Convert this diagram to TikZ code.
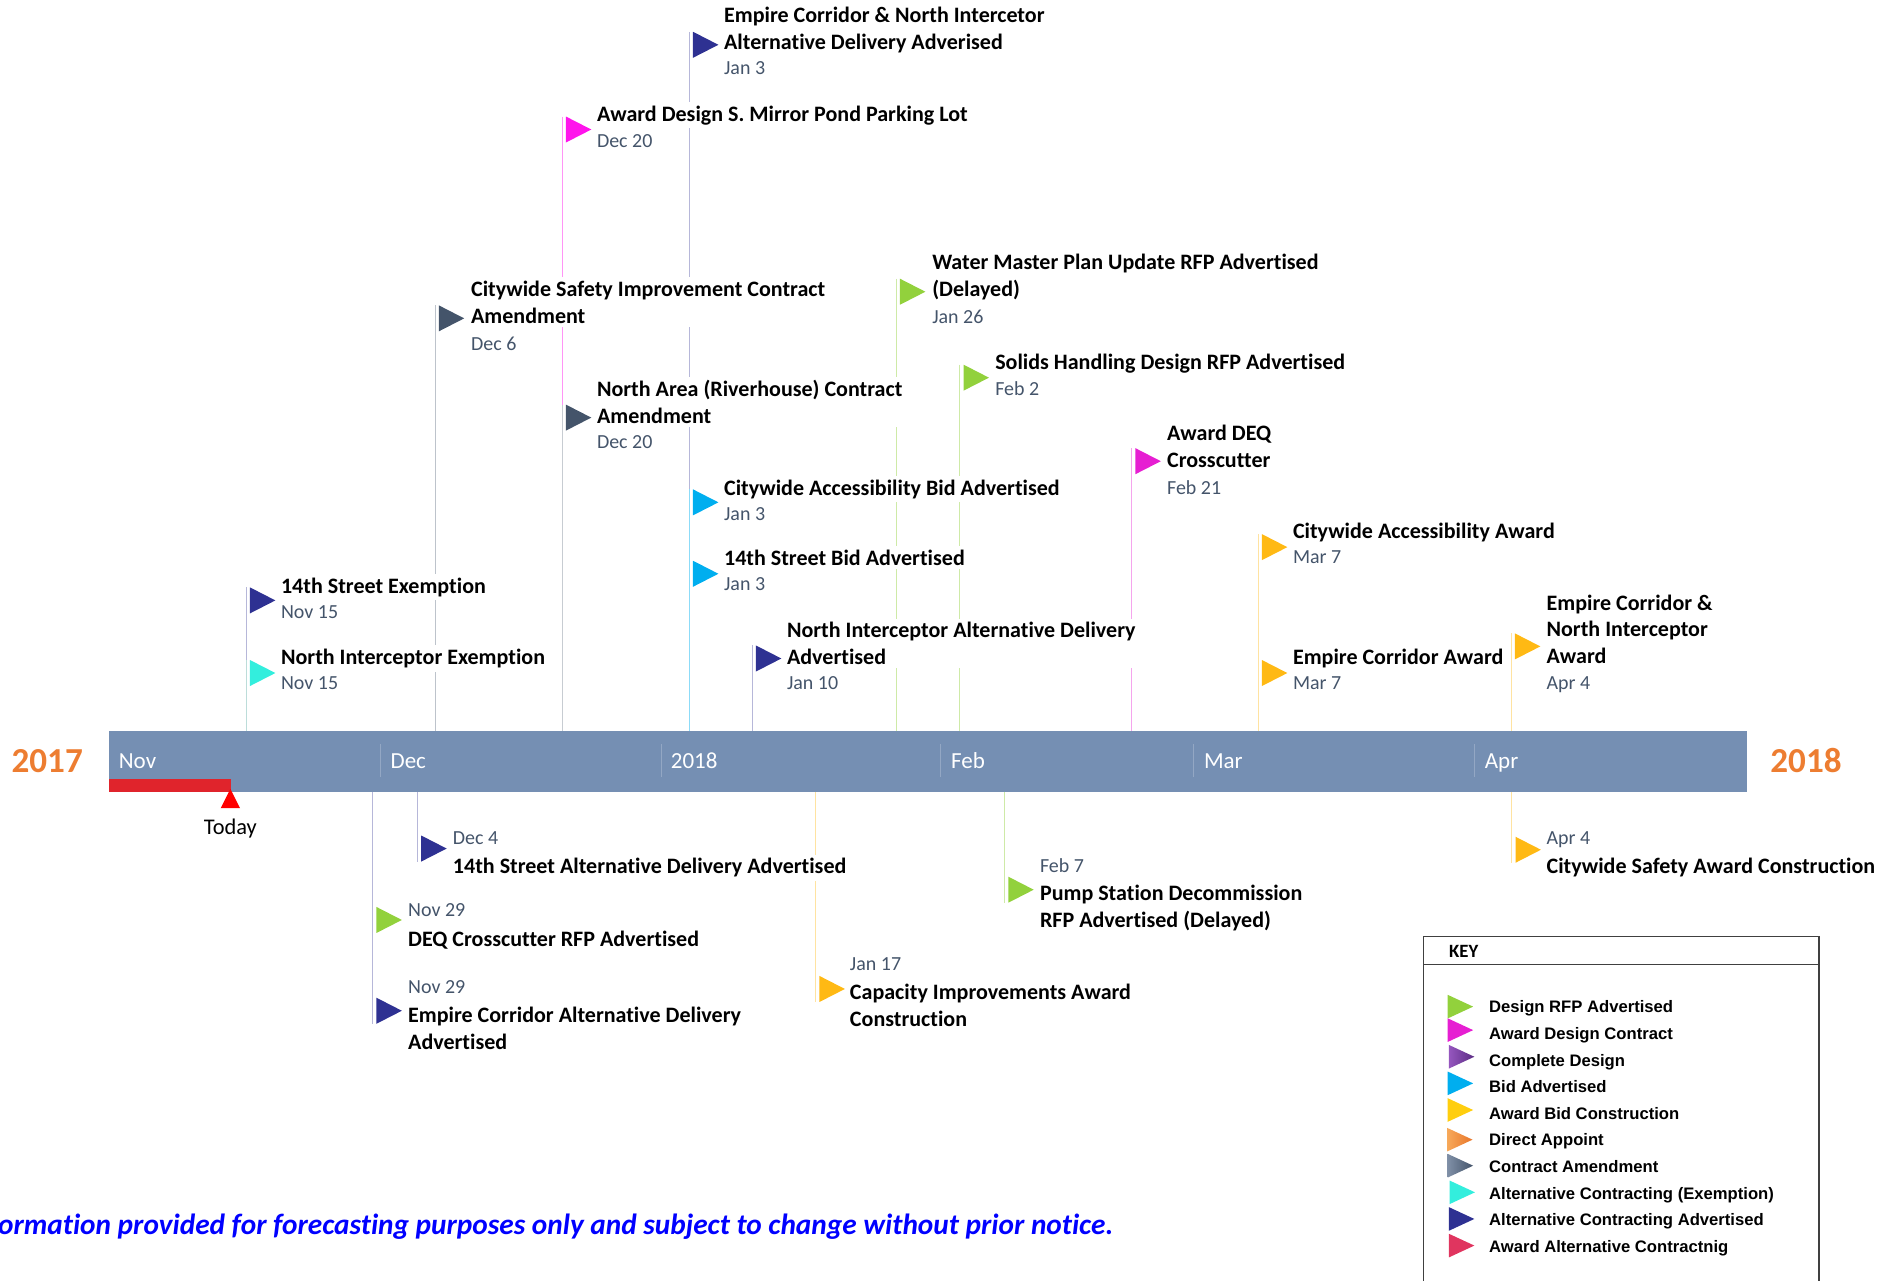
\documentclass[tikz,border=0pt]{standalone}
\usepackage{fontspec}
\setmainfont[Ligatures={NoCommon}]{Carlito}
\newfontfamily\keyfont{Liberation Sans}
\usetikzlibrary{shapes.geometric}
\definecolor{cgreen}{HTML}{92D13C}
\definecolor{cpink}{HTML}{FF14EC}
\definecolor{cmag}{HTML}{E61ED2}
\definecolor{cblue}{HTML}{00AEEF}
\definecolor{camber}{HTML}{FFB914}
\definecolor{cturq}{HTML}{33EEDD}
\definecolor{cnavy}{HTML}{2E3192}
\definecolor{cslate}{HTML}{44546A}
\definecolor{ccrim}{HTML}{E0355F}
\definecolor{cbar}{HTML}{758FB3}
\definecolor{csep}{HTML}{93A7C4}
\definecolor{cred}{HTML}{E0242C}
\definecolor{cyear}{HTML}{ED7D31}
\definecolor{cpurpl}{HTML}{9556BE}
\definecolor{cpurpd}{HTML}{5B2C83}
\definecolor{corgl}{HTML}{F7A95A}
\definecolor{corgd}{HTML}{E8762A}
\definecolor{cslatel}{HTML}{7F8FA6}

\begin{document}
\begin{tikzpicture}
        [x=1pt,y=-1pt,
        flag/.style={draw=none,shape=isosceles triangle,isosceles triangle stretches,inner sep=0,outer sep=0,minimum width=21.5pt,minimum height=21pt,anchor=lower side},
        keyflag/.style={draw=none,shape=isosceles triangle,isosceles triangle stretches,inner sep=0,outer sep=0,minimum width=19.5pt,minimum height=21pt,anchor=lower side},
        conn/.style={line width=0.8pt},
        evttitle/.style={anchor=north west,align=left,fill=white,inner xsep=0,inner ysep=3pt,yshift=9pt,font=\fontsize{18.2}{22}\selectfont\bfseries},
        evtdate/.style={anchor=north west,inner xsep=0,inner ysep=3pt,yshift=9pt,text=cslate,font=\fontsize{16.5}{20}\selectfont},
        month/.style={anchor=base west,inner sep=0,text=white,font=\fontsize{19}{22}\selectfont},
        year/.style={anchor=base,inner sep=0,text=cyear,font=\fontsize{29}{32}\selectfont\bfseries},
        keytext/.style={anchor=base west,inner sep=0,font=\fontsize{13.75}{16}\selectfont\keyfont\bfseries}]

        \useasboundingbox (0,0) rectangle (1568,1058);

        % bar
        \node[draw=none,fill=cbar,inner sep=0,minimum width=1353pt,minimum height=50pt] (bar) at (766.5,629) {};
        \fill[cred] (90,643.6) rectangle (190.5,654);
        \node[draw=none,fill=red,shape=isosceles triangle,isosceles triangle stretches,shape border rotate=90,inner sep=0,minimum width=16pt,minimum height=16pt] (tri) at (190.3,662.7) {};
        \node[anchor=base,inner sep=0,font=\fontsize{18.5}{22}\selectfont] (today) at (190.3,689) {Today};

        \node[year] (y1) at (39,638.5) {2017};
        \node[year] (y2) at (1492,638.5) {2018};

        \node[month] (m1) at (98,635) {Nov};
        \node[month] (m2) at (322.5,635) {Dec};
        \node[month] (m3) at (554,635) {2018};
        \node[month] (m4) at (785.5,635) {Feb};
        \node[month] (m5) at (994.5,635) {Mar};
        \node[month] (m6) at (1226.5,635) {Apr};

        \draw[csep] (314,615) -- (314,642);
        \draw[csep] (546,615) -- (546,642);
        \draw[csep] (777,615) -- (777,642);
        \draw[csep] (986,615) -- (986,642);
        \draw[csep] (1218,615) -- (1218,642);

        % flags above
        \node[flag,fill=cnavy] (f1) at (572.5,37) {};
        \node[flag,fill=cpink] (f2) at (467.5,107) {};
        \node[flag,fill=cslate] (f3) at (362.5,263) {};
        \node[flag,fill=cslate] (f4) at (467.5,345) {};
        \node[flag,fill=cblue] (f5) at (572.5,415) {};
        \node[flag,fill=cblue] (f6) at (572.5,474) {};
        \node[flag,fill=cnavy] (f7) at (624.5,544) {};
        \node[flag,fill=cgreen] (f8) at (743.5,241) {};
        \node[flag,fill=cgreen] (f9) at (796,312) {};
        \node[flag,fill=cmag] (f10) at (938,381) {};
        \node[flag,fill=camber] (f11) at (1042.5,452) {};
        \node[flag,fill=camber] (f12) at (1042.5,556) {};
        \node[flag,fill=camber] (f13) at (1251.5,534) {};
        \node[flag,fill=cnavy] (f14) at (206.5,496) {};
        \node[flag,fill=cturq] (f15) at (206.5,556) {};

        % flags below
        \node[flag,fill=cnavy] (f16) at (348,701) {};
        \node[flag,fill=cgreen] (f17) at (311,760) {};
        \node[flag,fill=cnavy] (f18) at (311,835) {};
        \node[flag,fill=camber] (f19) at (677,817) {};
        \node[flag,fill=cgreen] (f20) at (833,735) {};
        \node[flag,fill=camber] (f21) at (1252,702) {};

        \draw[conn,cnavy!35] ([xshift=-3pt]f1.left corner) -- ([xshift=-3pt]f1.left corner |- bar.north);
        \draw[conn,cpink!45] ([xshift=-3pt]f2.left corner) -- ([xshift=-3pt]f2.left corner |- bar.north);
        \draw[conn,cslate!35] ([xshift=-3pt]f3.left corner) -- ([xshift=-3pt]f3.left corner |- bar.north);
        \draw[conn,cslate!30] ([xshift=-3pt]f4.left corner) -- ([xshift=-3pt]f4.left corner |- bar.north);
        \draw[conn,cblue!45] ([xshift=-3pt]f5.left corner) -- ([xshift=-3pt]f5.left corner |- bar.north);
        \draw[conn,cblue!45] ([xshift=-3pt]f6.left corner) -- ([xshift=-3pt]f6.left corner |- bar.north);
        \draw[conn,cnavy!35] ([xshift=-3pt]f7.left corner) -- ([xshift=-3pt]f7.left corner |- bar.north);
        \draw[conn,cgreen!45] ([xshift=-3pt]f8.left corner) -- ([xshift=-3pt]f8.left corner |- bar.north);
        \draw[conn,cgreen!45] ([xshift=-3pt]f9.left corner) -- ([xshift=-3pt]f9.left corner |- bar.north);
        \draw[conn,cmag!40] ([xshift=-3pt]f10.left corner) -- ([xshift=-3pt]f10.left corner |- bar.north);
        \draw[conn,camber!40] ([xshift=-3pt]f11.left corner) -- ([xshift=-3pt]f11.left corner |- bar.north);
        \draw[conn,camber!40] ([xshift=-3pt]f12.left corner) -- ([xshift=-3pt]f12.left corner |- bar.north);
        \draw[conn,camber!40] ([xshift=-3pt]f13.left corner) -- ([xshift=-3pt]f13.left corner |- bar.north);
        \draw[conn,cnavy!35] ([xshift=-3pt]f14.left corner) -- ([xshift=-3pt]f14.left corner |- bar.north);
        \draw[conn,cturq!60!black!30!white] ([xshift=-3pt]f15.left corner) -- ([xshift=-3pt]f15.left corner |- bar.north);

        \draw[conn,cnavy!35] ([xshift=-3pt]f16.right corner) -- ([xshift=-3pt]f16.right corner |- bar.south);
        \draw[conn,cgreen!45!black!35!white] ([xshift=-3pt]f17.right corner) -- ([xshift=-3pt]f17.right corner |- bar.south);
        \draw[conn,cnavy!35] ([xshift=-3pt]f18.right corner) -- ([xshift=-3pt]f18.right corner |- bar.south);
        \draw[conn,camber!40] ([xshift=-3pt]f19.right corner) -- ([xshift=-3pt]f19.right corner |- bar.south);
        \draw[conn,cgreen!45] ([xshift=-3pt]f20.right corner) -- ([xshift=-3pt]f20.right corner |- bar.south);
        \draw[conn,camber!40] ([xshift=-3pt]f21.right corner) -- ([xshift=-3pt]f21.right corner |- bar.south);

        % titles and dates
        \node[evttitle] (t1) at (598,12) {Empire Corridor \& North Intercetor\\Alternative Delivery Adverised};
        \node[evtdate] (d1) at (598,57) {Jan 3};
        \node[evttitle] (t2) at (493,93) {Award Design S. Mirror Pond Parking Lot};
        \node[evtdate] (d2) at (493,117) {Dec 20};
        \node[evttitle] (t3) at (389,238) {Citywide Safety Improvement Contract\\Amendment};
        \node[evtdate] (d3) at (389,284) {Dec 6};
        \node[evttitle] (t4) at (493,320) {North Area (Riverhouse) Contract\\Amendment};
        \node[evtdate] (d4) at (493,366) {Dec 20};
        \node[evttitle] (t5) at (598,402) {Citywide Accessibility Bid Advertised};
        \node[evtdate] (d5) at (598,425) {Jan 3};
        \node[evttitle] (t6) at (598,460) {14th Street Bid Advertised};
        \node[evtdate] (d6) at (598,483) {Jan 3};
        \node[evttitle] (t7) at (650,520) {North Interceptor Alternative Delivery\\Advertised};
        \node[evtdate] (d7) at (650,565) {Jan 10};
        \node[evttitle] (t8) at (770,216) {Water Master Plan Update RFP Advertised\\(Delayed)};
        \node[evtdate] (d8) at (770,262) {Jan 26};
        \node[evttitle] (t9) at (822,298) {Solids Handling Design RFP Advertised};
        \node[evtdate] (d9) at (822,321) {Feb 2};
        \node[evttitle] (t10) at (964,357) {Award DEQ\\Crosscutter};
        \node[evtdate] (d10) at (964,403) {Feb 21};
        \node[evttitle] (t11) at (1068,438) {Citywide Accessibility Award};
        \node[evtdate] (d11) at (1068,461) {Mar 7};
        \node[evttitle] (t12) at (1068,542) {Empire Corridor Award};
        \node[evtdate] (d12) at (1068,565) {Mar 7};
        \node[evttitle] (t13) at (1277.5,497) {Empire Corridor \&\\North Interceptor\\Award};
        \node[evtdate] (d13) at (1277.5,565) {Apr 4};
        \node[evttitle] (t14) at (232,483) {14th Street Exemption};
        \node[evtdate] (d14) at (232,506) {Nov 15};
        \node[evttitle] (t15) at (232,542) {North Interceptor Exemption};
        \node[evtdate] (d15) at (232,565) {Nov 15};

        \node[evtdate] (d16) at (374,693) {Dec 4};
        \node[evttitle] (t16) at (374,715) {14th Street Alternative Delivery Advertised};
        \node[evtdate] (d17) at (337,752) {Nov 29};
        \node[evttitle] (t17) at (337,775) {DEQ Crosscutter RFP Advertised};
        \node[evtdate] (d18) at (337,816) {Nov 29};
        \node[evttitle] (t18) at (337,838) {Empire Corridor Alternative Delivery\\Advertised};
        \node[evtdate] (d19) at (702,797) {Jan 17};
        \node[evttitle] (t19) at (702,819) {Capacity Improvements Award\\Construction};
        \node[evtdate] (d20) at (859,715) {Feb 7};
        \node[evttitle] (t20) at (859,737) {Pump Station Decommission\\RFP Advertised (Delayed)};
        \node[evtdate] (d21) at (1277.5,693) {Apr 4};
        \node[evttitle] (t21) at (1277.5,715) {Citywide Safety Award Construction};

        % note
        \node[anchor=base east,inner sep=0,text=blue,font=\fontsize{24.2}{26}\selectfont\bfseries\itshape] (note) at (920,1020) {ormation provided for forecasting purposes only and subject to change without prior notice.};

        % key
        \draw[line width=0.9pt,black!75] (1176,1058) -- (1176,773.8) -- (1502.7,773.8) -- (1502.7,1058);
        \draw[line width=0.9pt,black!75] (1176,797) -- (1502.7,797);
        \node[anchor=west,inner sep=0,font=\fontsize{15.5}{18}\selectfont\bfseries] (keyhead) at (1197,786) {KEY};

        \node[keyflag,fill=cgreen] (k1) at (1196,831.6) {};
        \node[keyflag,fill=cmag] (k2) at (1196,851) {};
        \node[keyflag,left color=cpurpl,right color=cpurpd] (k3) at (1197,873) {};
        \node[keyflag,fill=cblue] (k4) at (1196,895) {};
        \node[keyflag,fill=camber!70!yellow] (k5) at (1196,917) {};
        \node[keyflag,left color=corgl,right color=corgd] (k6) at (1195.5,941.5) {};
        \node[keyflag,left color=cslatel,right color=cslate] (k7) at (1196,963) {};
        \node[keyflag,fill=cturq] (k8) at (1197.5,985) {};
        \node[keyflag,fill=cnavy] (k9) at (1197,1007) {};
        \node[keyflag,fill=ccrim] (k10) at (1197,1029) {};

        \node[keytext] (kt1) at (1230,836.7) {Design RFP Advertised};
        \node[keytext] (kt2) at (1230,858.7) {Award Design Contract};
        \node[keytext] (kt3) at (1230,880.7) {Complete Design};
        \node[keytext] (kt4) at (1230,902.7) {Bid Advertised};
        \node[keytext] (kt5) at (1230,924.7) {Award Bid Construction};
        \node[keytext] (kt6) at (1230,946.7) {Direct Appoint};
        \node[keytext] (kt7) at (1230,968.7) {Contract Amendment};
        \node[keytext] (kt8) at (1230,990.7) {Alternative Contracting (Exemption)};
        \node[keytext] (kt9) at (1230,1012.7) {Alternative Contracting Advertised};
        \node[keytext] (kt10) at (1230,1034.7) {Award Alternative Contractnig};

      \end{tikzpicture}
\end{document}
